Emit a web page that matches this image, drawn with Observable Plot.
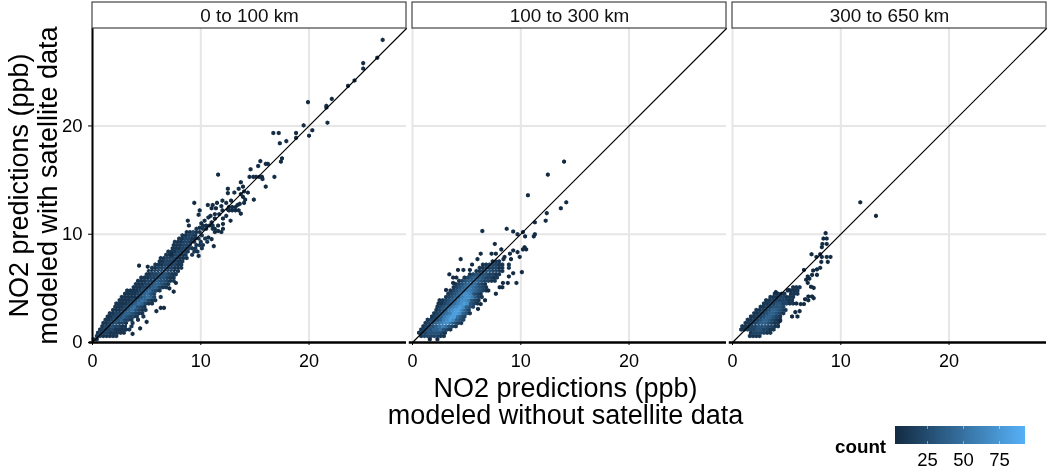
<!DOCTYPE html>
<html><head><meta charset="utf-8">
<script src="https://cdn.jsdelivr.net/npm/d3@7"></script>
<script src="https://cdn.jsdelivr.net/npm/@observablehq/plot@0.6"></script>
<style>
html,body{margin:0;padding:0;background:#fff;font-family:"Liberation Sans",Arial,sans-serif}
#wrap{position:relative;width:1050px;height:471px;overflow:hidden;filter:blur(0.45px)}
#legend{position:absolute;left:835px;top:420px;width:215px;height:50px}
#legend .t{position:absolute;left:0;top:16px;font-weight:bold;font-size:18.8px;color:#000}
#legend .k{position:absolute;left:60px;top:6px}
#legend .tick line{stroke:#fff;stroke-opacity:.45;stroke-dasharray:3 12}
</style></head><body>
<div id="wrap"></div>
<script>
const panels = ["0 to 100 km", "100 to 300 km", "300 to 650 km"];
const axisTicks = [0, 10, 20];
const legendTicks = [25, 50, 75];
const countDomain = [3, 93];
const countRange = ["#132B43", "#56B1F7"];
const xTitle = "NO2 predictions (ppb)\nmodeled without satellite data";
const yTitle = "NO2 predictions (ppb)\nmodeled with satellite data";
const identityLine = [0, 29];

// Dense hexagon rows: [y, first x, one digit per cell (count/10), "." = empty]
const denseNear = [
[0.3,0.1,"11"],[0.6,0.4,"1211111"],[0.9,0.5,"122211111"],[1.2,0.7,"1222211111"],[1.5,0.9,"12232211.1"],
[1.8,1.0,"11233221.1"],[2.1,1.2,"112334221.1"],[2.4,1.4,"1122343221.1"],[2.7,1.6,"11223443211"],
[3.0,1.9,"11123453211"],[3.3,2.1,"1112345321"],[3.6,2.2,"111123454211"],[3.9,2.5,"111123454211"],
[4.2,2.7,"11111234542.1"],[4.5,3.0,"1111234532"],[4.8,3.2,"11112345321"],[5.1,3.8,"11122344211"],
[5.4,4.0,"11122344321"],[5.7,4.2,"111223433211"],[6.0,4.5,"11122333211"],[6.3,5.0,"1122333211"],
[6.6,5.2,"1122332211"],[6.9,5.5,"1122322111"],[7.2,5.8,"111222211"],[7.5,6.2,"11222211"],
[7.8,6.3,"112222111"],[8.1,6.8,"1122211.1."],[8.4,7.0,"1112221.11"],[8.7,7.4,"11122211.1"],
[9.0,7.5,"111222.111"],[9.3,7.6,"1112211.1.1"],[9.6,8.0,"1122111.1"],[9.9,8.3,"11221.1"],
[10.2,8.7,"11211"],[10.5,9.6,"1.11.1"],[10.8,9.9,".1.11"]
];
const denseMid = [
[0.6,0.8,"12222211"],[0.9,0.6,"122333321"],[1.2,0.8,"1233445321"],[1.5,1.0,"12334565321"],
[1.8,1.2,"123456775321"],[2.1,1.4,"122346787432"],[2.4,1.8,"12346788532"],[2.7,2.0,"123456887431"],
[3.0,2.2,"12346788642"],[3.3,2.3,"123456787432"],[3.6,2.4,"1123456787321"],[3.9,2.5,"1123456776321"],
[4.2,3.1,"123456776421"],[4.5,3.3,"12346776321"],[4.8,3.5,"123456654321"],[5.1,3.8,"12345654321"],
[5.4,4.0,"1234555321"],[5.7,4.3,"123445432211"],[6.0,4.8,"12344432211"],[6.3,5.3,"1233332211"],
[6.6,5.9,"112332211"],[6.9,6.2,"11222211.1"],[7.2,6.5,"1122211.1"],[7.5,7.4,"111"]
];
const denseFar = [
[0.6,1.6,"1111"],[0.9,1.7,"1222211"],[1.2,0.8,"11222332211"],[1.5,0.9,"111223332211"],
[1.8,1.2,"11223443211"],[2.1,1.4,"11223443211"],[2.4,1.7,"1122344321"],[2.7,2.0,"1122344321"],
[3.0,2.2,"1122344321"],[3.3,2.6,"11223332"],[3.6,2.9,"1122332211"],[3.9,3.1,"112222211"],
[4.2,3.5,"11122111"],[4.5,3.9,"1111.111"],[4.8,5.1,"1111"],[5.1,5.6,"111"]
];

// Isolated hexagons: [x, y]
const sparseNear = [
[26.8,27.95],[26.3,26.3],[25,25.8],[25,25.3],[24.2,24.2],[23.6,23.7],[22.1,22.5],[21.6,21.85],[21.6,21.7],
[19.9,22.2],[21.7,20.3],[19.5,20.05],[18.8,19.35],[18.8,18.9],[20,19.1],[20.3,19.6],[16.7,19.35],[17.2,19.35],
[17.3,18.4],[17.9,18.6],[17.4,16.7],[17.5,17],[16,16.5],[16.2,16.5],[15.5,16.75],[15.3,16.3],[14.6,16],
[11.6,15.5],[14.5,15.3],[14.85,15.3],[15.1,15.3],[15.4,15.3],[15.65,15.3],[16.8,15.3],[15.7,15.1],[13.7,14.8],
[16,14.4],[12.5,14.2],[13.5,14.2],[13.9,14.4],[12.5,13.8],[13.1,13.85],[14,13.95],[14.35,13.85],[13.7,13.7],
[13.9,13.45],[14.1,13.2],[14.9,13.2],[12,13.1],[12.35,12.9],[12.8,13.1],[13.6,12.8],[14,12.9],[9.4,12.9],
[10.65,12.7],[11.1,12.7],[11.5,12.9],[11.9,12.6],[11.4,12.4],[11,12.4],[9.9,12.2],[12,12.2],[12.5,12.3],
[12.6,12.5],[12.9,12.5],[13.2,12.5],[12.6,12.2],[12.9,12.2],[13.2,12.2],[13.5,12.2],[13.7,11.9],[13.4,12.7],
[9.8,11.8],[11.3,11.85],[11.7,11.85],[10.9,11.7],[11.3,11.45],[12.35,11.7],[12.05,11.45],[12.75,11.25],
[8.8,11.25],[8.9,10.8],[10.7,11.55],[10.35,11.25],[10.05,11],[10.5,10.8],[9.9,10.6],[11,11.1],[12.05,10.95],
[11.6,10.8],[11.3,10.5],[12.05,10.5],[11.6,10.3],[11.9,10.2],[11.3,10.2],[11,9.55],[11.2,8.9],[10.7,9.7],[11,10.8],
[9.8,8],[7.3,8.1],[5.1,7],[4.3,7.1],[7.7,5.5],[7.1,5],[7.5,4.7],[6.3,3.2],[6.6,3.2],[5.9,2.9],[5,1.9],[4.4,1.3],[3.7,0.8]
];
const sparseMid = [
[14,16.7],[12.5,15.5],[10.66,13.6],[14.2,12.95],[13.7,12.4],[12.4,11.95],[12.3,11.25],[11.3,11.1],[6.45,10.3],
[8.7,10.5],[9.3,10.25],[9.7,10],[10.2,10.2],[10.4,9.8],[11.3,10],[11.2,9.8],[7.6,9.1],[8.2,8.6],[9.3,8.5],[9,8.2],
[10.35,8.8],[10.5,8.6],[10.2,8.6],[9.7,8.35],[9.9,7.9],[8.5,7.9],[6.3,8.2],[4.45,7.7],[6,7.7],[7.3,8.2],[7.7,8.2],
[9.1,7.7],[8.4,7.7],[5.5,7.2],[4.2,6.7],[4.7,6.7],[5.3,6.7],[3.4,6.3],[3.75,6],[4.05,6],[3.75,5.5],[3.1,4.85],
[9.3,6.4],[10.1,6.5],[8.9,6.1],[9.6,5.5],[8.8,5.5],[8.35,5.5],[8.3,5.1],[8.05,5.1],[7.7,4.5],[7,4.8],[6.7,3.9],[6.3,3.55],[6.05,3.1],
[1.6,0.3],[2.3,0.3]
];
const sparseFar = [
[11.8,12.95],[13.25,11.7],[8.6,10.1],[8.4,9.6],[8.7,9.6],[8.3,9.1],[8.7,9.1],[8.25,8.8],[7.3,8.15],[8.1,8.15],
[7.75,7.9],[8.25,7.9],[8.7,7.9],[9.05,7.9],[8.2,7.45],[8.8,7.45],[6.6,6.7],[8.1,6.9],[7.8,6.75],[7.45,6.65],
[7.35,6.25],[7.8,6.25],[6.95,6.1],[6.8,5.8],[6.95,5.5],[7.1,5.9],[7.25,5.15],[7.5,5.05],[4,4.65],[5.2,4.85],
[7.5,4.1],[7,4.25],[7.35,4.25],[6.7,4],[7,3.9],[6.6,3.55],[6.3,3.55],[5.9,3.6],[6.2,2.9],[5.8,2.8],[5.5,2.4],[6,2.4],[4.4,2]
];
// Faint white dotted streaks inside the hexagon clouds: [panel index, y, x start, x end]
const streaks = [[0,1.66,1.75,3.6],[0,6.55,5.3,7.75],[1,1.66,1.75,4],[1,6.5,7,8.2],[2,1.63,1.97,3.97]];

const cells = [];
[denseNear, denseMid, denseFar].forEach((rows, p) => rows.forEach(([y, x0, s]) =>
  [...s].forEach((c, i) => { if (c !== ".") cells.push({panel: panels[p], x: x0 + i * 0.3, y, count: +c * 10}); })));
[sparseNear, sparseMid, sparseFar].forEach((pts, p) => pts.forEach(([x, y]) =>
  cells.push({panel: panels[p], x, y, count: 1})));
const panelRows = panels.map(panel => ({panel}));
const firstPanel = panelRows.slice(0, 1);
const middlePanel = panelRows.slice(1, 2);

const chart = Plot.plot({
  width: 1050, height: 471,
  marginLeft: 91, marginRight: 3, marginTop: 28, marginBottom: 129,
  style: {fontFamily: '"Liberation Sans",Arial,sans-serif', background: "#fff", color: "#000"},
  fx: {domain: panels, paddingInner: 0.019, paddingOuter: 0, axis: null},
  x: {domain: identityLine, label: null},
  y: {domain: identityLine, label: null},
  color: {type: "linear", domain: countDomain, range: countRange, clamp: true},
  marks: [
    Plot.ruleX(panelRows.flatMap(d => axisTicks.map(t => ({...d, t}))), {fx: "panel", x: "t", stroke: "#e6e6e6", strokeWidth: 2}),
    Plot.ruleY(panelRows.flatMap(d => axisTicks.slice(1).map(t => ({...d, t}))), {fx: "panel", y: "t", stroke: "#e6e6e6", strokeWidth: 2}),
    Plot.dot(cells, {fx: "panel", x: "x", y: "y", fill: "count", symbol: "hexagon", r: 2}),
    Plot.ruleY(streaks, {fx: d => panels[d[0]], y: d => d[1], x1: d => d[2], x2: d => d[3], stroke: "#fff", strokeOpacity: 0.7, strokeWidth: 0.8, strokeDasharray: "1.2 2"}),
    Plot.line(panelRows.flatMap(d => identityLine.map(v => ({...d, v}))), {fx: "panel", z: "panel", x: "v", y: "v", stroke: "#000", strokeWidth: 1.2}),
    Plot.ruleY(panelRows, {fx: "panel", y: () => 0, x1: () => -0.3, x2: () => 29, stroke: "#000", strokeWidth: 2.6}),
    Plot.ruleX(firstPanel, {fx: "panel", x: () => 0, y1: () => 0, y2: () => 29, stroke: "#000", strokeWidth: 2}),
    Plot.rect(panelRows, {fx: "panel", x1: () => 0, x2: () => 29, y1: () => 29, y2: () => 31.4, fill: "#fff", stroke: "#444", strokeWidth: 1.2}),
    Plot.text(panelRows, {fx: "panel", x: () => 14.5, y: () => 30.2, text: "panel", fontSize: 18.9, fill: "#111"}),
    Plot.axisX({ticks: axisTicks, tickSize: 3, tickPadding: 9, fontSize: 18, anchor: "bottom", label: null, tickFormat: d => d}),
    Plot.axisY({ticks: axisTicks, tickSize: 4, tickPadding: 6, fontSize: 18.5, anchor: "left", label: null, tickFormat: d => d}),
    Plot.text(middlePanel, {fx: "panel", frameAnchor: "bottom", text: () => xTitle, lineAnchor: "top", dx: -4, dy: 35, fontSize: 27, lineHeight: 1, fill: "#000"}),
    Plot.text(firstPanel, {fx: "panel", frameAnchor: "left", text: () => yTitle, textAnchor: "middle", rotate: -90, dx: -59.5, fontSize: 27, lineHeight: 1.07, fill: "#000"})
  ]
});
document.getElementById("wrap").append(chart);

const legend = document.createElement("div"); legend.id = "legend";
const lt = document.createElement("div"); lt.className = "t"; lt.textContent = "count"; legend.append(lt);
const key = document.createElement("div"); key.className = "k";
key.append(Plot.legend({
  color: {type: "linear", domain: countDomain, range: countRange},
  ramp: true, label: null, ticks: legendTicks, tickFormat: d => d, tickSize: 6,
  width: 130, height: 45, marginLeft: 0, marginRight: 0, marginTop: 0, marginBottom: 27,
  style: {fontFamily: '"Liberation Sans",Arial,sans-serif', fontSize: "18.5px", color: "#000", overflow: "visible"}
}));
legend.append(key);
document.getElementById("wrap").append(legend);
</script>
</body></html>
